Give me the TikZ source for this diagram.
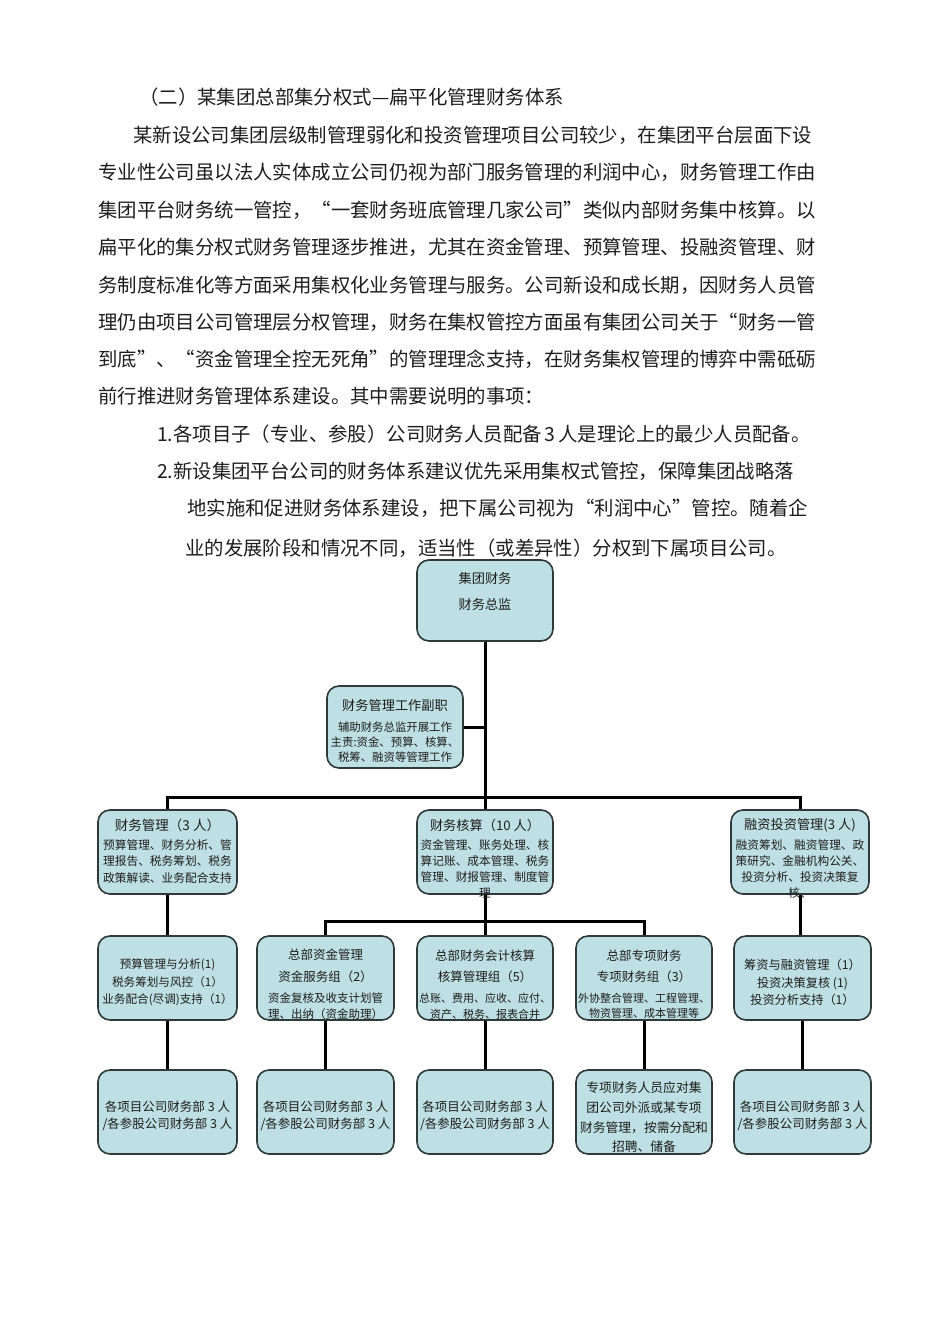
\documentclass[tikz,border=0pt]{standalone}
\usepackage{fontspec}
\setmainfont{Noto Sans CJK SC}
\XeTeXlinebreaklocale "zh"
\XeTeXlinebreakskip=0pt plus 3pt
\definecolor{boxfill}{HTML}{BEDFE3}
\definecolor{boxline}{HTML}{2E3A3A}
\definecolor{txt}{HTML}{1E1E1E}
\newcommand{\fs}[2]{\fontsize{#1}{#2}\selectfont}
\begin{document}
\begin{tikzpicture}[x=1pt,y=-1pt,
  orgbox/.style={draw=boxline, line width=1.6pt, fill=boxfill, rounded corners=12pt, inner sep=0pt},
  conn/.style={line width=3pt, draw=black, line join=miter},
  para/.style={anchor=west, inner sep=0pt, text=txt, font=\fs{19.4}{20}},
  bt/.style={inner sep=0pt, align=center, text=txt}]
\useasboundingbox (0,0) rectangle (950,1344);
\fill[white] (0,0) rectangle (950,1344);

% ---------- text ----------
\node[para] (p0) at (139,97) {（二）某集团总部集分权式—扁平化管理财务体系};
\node[para] (p1) at (133,135) {\hbox to 685pt{某新设公司集团层级制管理弱化和投资管理项目公司较少，在集团平台层面下设}};
\node[para] (p2) at (98,172) {\hbox to 720pt{专业性公司虽以法人实体成立公司仍视为部门服务管理的利润中心，财务管理工作由}};
\node[para] (p3) at (98,210) {\hbox to 720pt{集团平台财务统一管控，“一套财务班底管理几家公司”类似内部财务集中核算。以}};
\node[para] (p4) at (98,247) {\hbox to 720pt{扁平化的集分权式财务管理逐步推进，尤其在资金管理、预算管理、投融资管理、财}};
\node[para] (p5) at (98,285) {\hbox to 720pt{务制度标准化等方面采用集权化业务管理与服务。公司新设和成长期，因财务人员管}};
\node[para] (p6) at (98,322) {\hbox to 720pt{理仍由项目公司管理层分权管理，财务在集权管控方面虽有集团公司关于“财务一管}};
\node[para] (p7) at (98,359) {\hbox to 720pt{到底”、“资金管理全控无死角”的管理理念支持，在财务集权管理的博弈中需砥砺}};
\node[para] (p8) at (98,396) {前行推进财务管理体系建设。其中需要说明的事项：};
\node[para] (p9) at (157,434) {\hbox to 643pt{1.各项目子（专业、参股）公司财务人员配备 3 人是理论上的最少人员配备。}};
\node[para] (p10) at (157,471) {\hbox to 633pt{2.新设集团平台公司的财务体系建议优先采用集权式管控，保障集团战略落}};
\node[para] (p11) at (187,508) {\hbox to 631pt{地实施和促进财务体系建设，把下属公司视为“利润中心”管控。随着企}};
\node[para] (p12) at (185,548) {业的发展阶段和情况不同，适当性（或差异性）分权到下属项目公司。};

% ---------- boxes ----------
\node[orgbox, minimum width=136pt, minimum height=81pt] (top) at (485,600.5) {};
\node[orgbox, minimum width=136pt, minimum height=82pt] (fz) at (395,727) {};
\node[orgbox, minimum width=139pt, minimum height=84pt] (l2a) at (167.5,852) {};
\node[orgbox, minimum width=136pt, minimum height=84pt] (l2b) at (485,852) {};
\node[orgbox, minimum width=138pt, minimum height=84pt] (l2c) at (800,852) {};
\node[orgbox, minimum width=139pt, minimum height=84pt] (l3a) at (167.5,978) {};
\node[orgbox, minimum width=137pt, minimum height=84pt] (l3b) at (325.5,978) {};
\node[orgbox, minimum width=136pt, minimum height=84pt] (l3c) at (485,978) {};
\node[orgbox, minimum width=136pt, minimum height=84pt] (l3d) at (644,978) {};
\node[orgbox, minimum width=137pt, minimum height=84pt] (l3e) at (802.5,978) {};
\node[orgbox, minimum width=139pt, minimum height=84pt] (l4a) at (167.5,1112) {};
\node[orgbox, minimum width=137pt, minimum height=84pt] (l4b) at (325.5,1112) {};
\node[orgbox, minimum width=136pt, minimum height=84pt] (l4c) at (485,1112) {};
\node[orgbox, minimum width=136pt, minimum height=84pt] (l4d) at (644,1112) {};
\node[orgbox, minimum width=137pt, minimum height=84pt] (l4e) at (802.5,1112) {};

% ---------- connectors ----------
\coordinate (bar1) at (485,797);
\coordinate (bar2) at (485,921);
\draw[conn] (top.south) -- (bar1);
\draw[conn] (fz.east) -- (fz.east -| top.south);
\draw[conn] (l2a.north) |- (bar1) -| (l2c.north);
\draw[conn] (bar1) -- (l2b.north);
\draw[conn] (l2a.south) -- (l3a.north);
\draw[conn] (l2b.south) -- (bar2);
\draw[conn] (l3b.north) |- (bar2) -| (l3d.north);
\draw[conn] (bar2) -- (l3c.north);
\draw[conn] (l2c.south) -- (l2c.south |- l3e.north);
\draw[conn] (l3a.south) -- (l4a.north);
\draw[conn] (l3b.south) -- (l4b.north);
\draw[conn] (l3c.south) -- (l4c.north);
\draw[conn] (l3d.south) -- (l4d.north);
\draw[conn] (l3e.south) -- (l4e.north);

% ---------- box texts ----------
\node[bt, font=\fs{13.2}{26}] (t-top) at (485,591) {集团财务\\财务总监};
\node[bt, font=\fs{13.2}{16}] (t-fz1) at (395,705) {财务管理工作副职};
\node[bt, font=\fs{11.4}{15}] (t-fz2) at (395,742) {辅助财务总监开展工作\\主责:资金、预算、核算、\\税筹、融资等管理工作};

\node[bt, font=\fs{13.5}{16}] (t-l2a1) at (167.5,825) {财务管理（3 人）};
\node[bt, font=\fs{11.7}{16.5}] (t-l2a2) at (167.5,861.5) {预算管理、财务分析、管\\理报告、税务筹划、税务\\政策解读、业务配合支持};
\node[bt, font=\fs{13.2}{16}] (t-l2b1) at (485,825) {财务核算（10 人）};
\node[bt, font=\fs{11.7}{16}] (t-l2b2) at (485,869) {资金管理、账务处理、核\\算记账、成本管理、税务\\管理、财报管理、制度管\\理};
\node[bt, font=\fs{13.2}{16}] (t-l2c1) at (800,825) {融资投资管理(3 人)};
\node[bt, font=\fs{11.7}{16}] (t-l2c2) at (800,869) {融资筹划、融资管理、政\\策研究、金融机构公关、\\投资分析、投资决策复\\核、};

\node[bt, font=\fs{11.6}{17.5}] (t-l3a) at (167.5,982.5) {预算管理与分析(1)\\税务筹划与风控（1）\\业务配合(尽调)支持（1）};
\node[bt, font=\fs{12.5}{22}] (t-l3b1) at (325.5,966) {总部资金管理\\资金服务组（2）};
\node[bt, font=\fs{11.5}{16}] (t-l3b2) at (325.5,1006) {资金复核及收支计划管\\理、出纳（资金助理）};
\node[bt, font=\fs{12.5}{21}] (t-l3c1) at (485,966.5) {总部财务会计核算\\核算管理组（5）};
\node[bt, font=\fs{11}{16}] (t-l3c2) at (485,1006) {总账、费用、应收、应付、\\资产、税务、报表合并};
\node[bt, font=\fs{12.5}{21}] (t-l3d1) at (644,966.5) {总部专项财务\\专项财务组（3）};
\node[bt, font=\fs{11}{15}] (t-l3d2) at (644,1005.5) {外协整合管理、工程管理、\\物资管理、成本管理等};
\node[bt, font=\fs{12.2}{17.5}] (t-l3e) at (802.5,982.5) {筹资与融资管理（1）\\投资决策复核 (1)\\投资分析支持（1）};

\node[bt, font=\fs{12.5}{17}] (t-l4a) at (167.5,1115.5) {各项目公司财务部 3 人\\/各参股公司财务部 3 人};
\node[bt, font=\fs{12.5}{17}] (t-l4b) at (325.5,1115.5) {各项目公司财务部 3 人\\/各参股公司财务部 3 人};
\node[bt, font=\fs{12.5}{17}] (t-l4c) at (485,1115.5) {各项目公司财务部 3 人\\/各参股公司财务部 3 人};
\node[bt, font=\fs{12.8}{19.7}] (t-l4d) at (644,1117.5) {专项财务人员应对集\\团公司外派或某专项\\财务管理，按需分配和\\招聘、储备};
\node[bt, font=\fs{12.5}{17}] (t-l4e) at (802.5,1115.5) {各项目公司财务部 3 人\\/各参股公司财务部 3 人};
\end{tikzpicture}
\end{document}
